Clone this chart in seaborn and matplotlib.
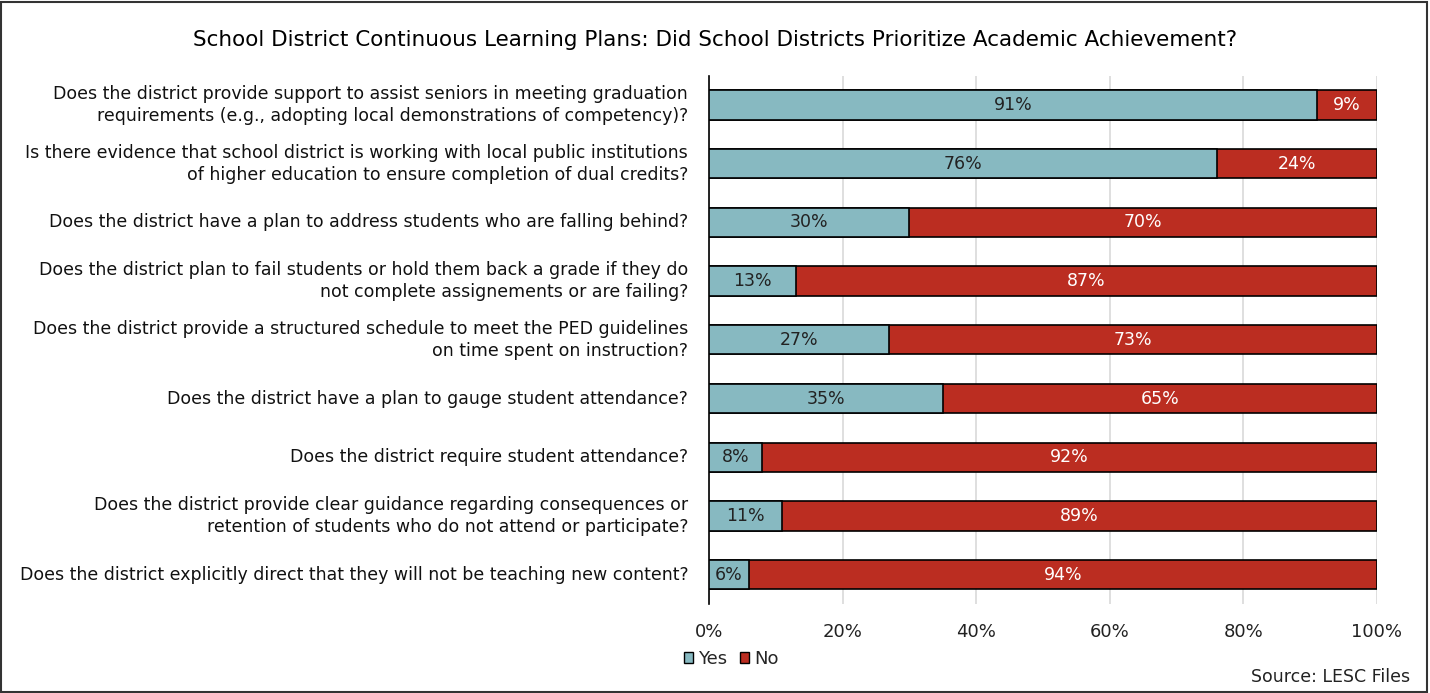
import matplotlib
matplotlib.use("Agg")
import matplotlib.pyplot as plt
from matplotlib.patches import Patch, Rectangle
import seaborn as sns
import pandas as pd

questions = [
    "Does the district provide support to assist seniors in meeting graduation\nrequirements (e.g., adopting local demonstrations of competency)?",
    "Is there evidence that school district is working with local public institutions\nof higher education to ensure completion of dual credits?",
    "Does the district have a plan to address students who are falling behind?",
    "Does the district plan to fail students or hold them back a grade if they do\nnot complete assignements or are failing?",
    "Does the district provide a structured schedule to meet the PED guidelines\non time spent on instruction?",
    "Does the district have a plan to gauge student attendance?",
    "Does the district require student attendance?",
    "Does the district provide clear guidance regarding consequences or\nretention of students who do not attend or participate?",
    "Does the district explicitly direct that they will not be teaching new content?",
]
yes_pct = [91, 76, 30, 13, 27, 35, 8, 11, 6]
no_pct = [9, 24, 70, 87, 73, 65, 92, 89, 94]
ticks = [0, 20, 40, 60, 80, 100]

YES_COLOR = "#87b9c1"
NO_COLOR = "#bb2d21"

df = pd.DataFrame({"question": questions, "yes": yes_pct, "no": no_pct})
df["total"] = df["yes"] + df["no"]

sns.set_theme(style="white")
plt.rcParams["font.family"] = ["DejaVu Sans"]

fig = plt.figure(figsize=(14.3, 6.93), dpi=100)
ax = fig.add_axes([0.4958, 0.1284, 0.4671, 0.7625])

# Stacked bars: full-length "No" layer underneath, "Yes" layer drawn over it
sns.barplot(data=df, y="question", x="total", color=NO_COLOR, orient="h",
            width=0.5, edgecolor="black", linewidth=1.2, saturation=1,
            ax=ax, zorder=3)
sns.barplot(data=df, y="question", x="yes", color=YES_COLOR, orient="h",
            width=0.5, edgecolor="black", linewidth=1.2, saturation=1,
            ax=ax, zorder=4)

for i, (y, n) in enumerate(zip(yes_pct, no_pct)):
    ax.text(y / 2, i, f"{y}%", ha="center", va="center", fontsize=12.5,
            color="#222222", zorder=5)
    ax.text(y + n / 2, i, f"{n}%", ha="center", va="center", fontsize=12.5,
            color="white", zorder=5)

ax.set_xlim(0, 100)
ax.set_ylim(8.5, -0.5)
ax.set_xticks(ticks)
ax.set_xticklabels([f"{t}%" for t in ticks], fontsize=13, color="#222222")
ax.tick_params(axis="x", length=0, pad=14)
ax.tick_params(axis="y", length=0, pad=15)
ax.set_yticklabels(questions, fontsize=12.5, color="#111111", linespacing=1.3)
for lbl in ax.get_yticklabels():
    lbl.set_horizontalalignment("right")
    lbl.set_verticalalignment("center")
    lbl.set_multialignment("right")
ax.set_xlabel("")
ax.set_ylabel("")
ax.grid(axis="x", color="#d9d9d9", linewidth=1.2, zorder=0)
for side in ["top", "right", "bottom"]:
    ax.spines[side].set_visible(False)
ax.spines["left"].set_color("black")
ax.spines["left"].set_linewidth(1.2)

fig.text(0.5, 0.942, "School District Continuous Learning Plans: Did School Districts Prioritize Academic Achievement?",
         ha="center", va="center", fontsize=15.5, color="black")

handles = [Patch(facecolor=YES_COLOR, edgecolor="black", label="Yes"),
           Patch(facecolor=NO_COLOR, edgecolor="black", label="No")]
fig.legend(handles=handles, loc="center left", bbox_to_anchor=(0.467, 0.049),
           ncol=2, frameon=False, fontsize=13, handlelength=0.5, handleheight=0.5,
           handletextpad=0.25, columnspacing=0.75)

fig.text(0.986, 0.023, "Source: LESC Files", ha="right", va="center",
         fontsize=12.5, color="#222222")

fig.add_artist(Rectangle((0.001, 0.002), 0.997, 0.995, transform=fig.transFigure,
                         fill=False, edgecolor="#333333", linewidth=1.5))

fig.savefig("out.png", dpi=100)
